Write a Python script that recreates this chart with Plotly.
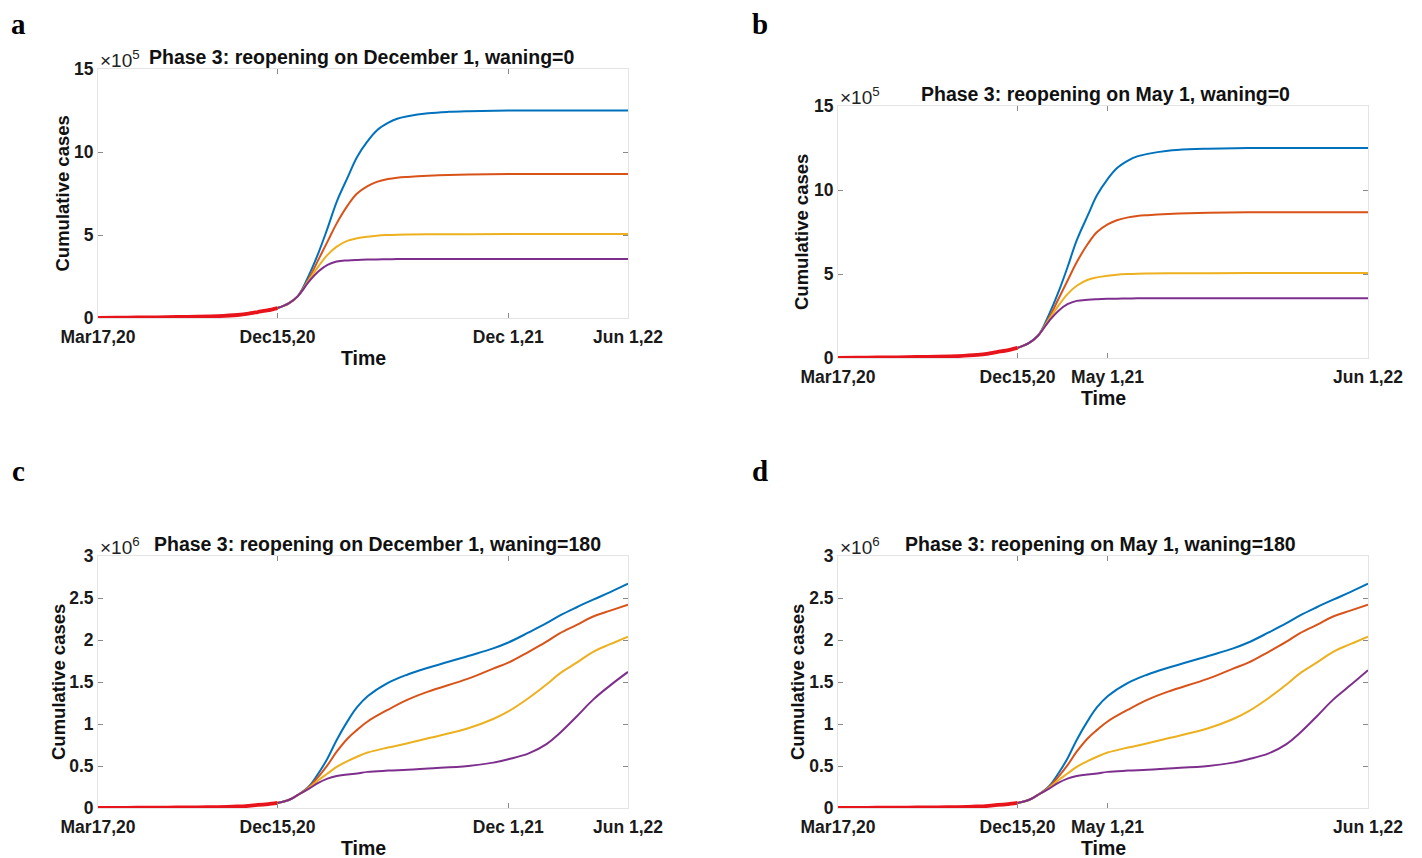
import plotly.graph_objects as go

# ---------------- data ----------------
# observed cumulative cases (red), Mar 17 2020 -> Dec 15 2020
red_dates = ["2020-03-17", "2020-04-15", "2020-05-15", "2020-06-15", "2020-07-15",
             "2020-08-15", "2020-09-15", "2020-10-15", "2020-11-01", "2020-11-15",
             "2020-12-01", "2020-12-15"]
red_e5 = [0.0, 0.02, 0.03, 0.04, 0.06, 0.08, 0.11, 0.18, 0.26, 0.36, 0.47, 0.60]   # x10^5
red_e6 = [0.0, 0.002, 0.003, 0.004, 0.006, 0.008, 0.011, 0.018, 0.026, 0.036, 0.047, 0.060]  # x10^6

# panels a / b  (waning = 0), values x10^5
dates_ab = ["2020-12-15", "2021-01-01", "2021-01-15", "2021-02-01", "2021-02-15",
            "2021-03-01", "2021-03-15", "2021-04-01", "2021-04-15", "2021-05-01",
            "2021-05-15", "2021-06-01", "2021-06-15", "2021-07-01", "2021-08-01",
            "2021-09-01", "2021-10-01", "2021-12-01", "2022-02-01", "2022-06-01"]
a_blue = [0.60, 0.88, 1.32, 2.6, 3.9, 5.4, 7.0, 8.5, 9.7, 10.65, 11.3, 11.75, 12.0, 12.15,
          12.33, 12.42, 12.46, 12.5, 12.5, 12.5]
a_orange = [0.60, 0.88, 1.32, 2.4, 3.5, 4.6, 5.7, 6.8, 7.5, 7.95, 8.2, 8.37, 8.45, 8.5,
            8.57, 8.62, 8.65, 8.67, 8.68, 8.68]
a_yellow = [0.60, 0.88, 1.32, 2.3, 3.1, 3.8, 4.3, 4.66, 4.8, 4.9, 4.96, 5.0, 5.02, 5.03,
            5.04, 5.05, 5.05, 5.06, 5.06, 5.06]
a_purple = [0.60, 0.88, 1.32, 2.2, 2.8, 3.2, 3.4, 3.47, 3.5, 3.52, 3.53, 3.54, 3.55, 3.55,
            3.55, 3.56, 3.56, 3.56, 3.56, 3.56]

b_blue = [0.60, 0.88, 1.32, 2.6, 3.9, 5.4, 7.0, 8.5, 9.7, 10.65, 11.3, 11.75, 12.0, 12.15,
          12.33, 12.42, 12.46, 12.5, 12.5, 12.5]
b_orange = [0.60, 0.88, 1.32, 2.4, 3.5, 4.6, 5.7, 6.8, 7.5, 7.95, 8.2, 8.37, 8.45, 8.5,
            8.57, 8.62, 8.65, 8.67, 8.68, 8.68]
b_yellow = [0.60, 0.88, 1.32, 2.3, 3.1, 3.8, 4.3, 4.66, 4.8, 4.9, 4.96, 5.0, 5.02, 5.03,
            5.04, 5.05, 5.05, 5.06, 5.06, 5.06]
b_purple = [0.60, 0.88, 1.32, 2.2, 2.8, 3.2, 3.4, 3.47, 3.5, 3.52, 3.53, 3.54, 3.55, 3.55,
            3.55, 3.56, 3.56, 3.56, 3.56, 3.56]

# panels c / d  (waning = 180), values x10^6
dates_cd = ["2020-12-15", "2021-01-01", "2021-01-15", "2021-02-01", "2021-02-15",
            "2021-03-01", "2021-03-15", "2021-04-01", "2021-04-15", "2021-05-01",
            "2021-06-01", "2021-07-01", "2021-08-01", "2021-10-01", "2021-11-08",
            "2021-12-01", "2022-01-01", "2022-01-28", "2022-02-17", "2022-03-15",
            "2022-04-09", "2022-05-05", "2022-06-01"]
c_blue = [0.06, 0.095, 0.155, 0.26, 0.41, 0.59, 0.81, 1.04, 1.20, 1.33, 1.49, 1.59, 1.67,
          1.81, 1.90, 1.97, 2.09, 2.20, 2.29, 2.39, 2.48, 2.57, 2.67]
c_orange = [0.06, 0.095, 0.155, 0.25, 0.37, 0.51, 0.67, 0.83, 0.93, 1.03, 1.17, 1.29, 1.385,
            1.54, 1.66, 1.73, 1.86, 1.98, 2.08, 2.18, 2.28, 2.35, 2.42]
c_yellow = [0.06, 0.095, 0.155, 0.24, 0.33, 0.41, 0.49, 0.56, 0.61, 0.66, 0.72, 0.77, 0.83,
            0.95, 1.06, 1.15, 1.31, 1.47, 1.60, 1.73, 1.86, 1.95, 2.04]
c_purple = [0.06, 0.095, 0.155, 0.23, 0.30, 0.35, 0.38, 0.40, 0.41, 0.43, 0.445, 0.455, 0.47,
            0.50, 0.54, 0.58, 0.65, 0.76, 0.89, 1.09, 1.29, 1.46, 1.62]

d_blue = [0.06, 0.095, 0.155, 0.26, 0.41, 0.59, 0.81, 1.04, 1.20, 1.33, 1.49, 1.59, 1.67,
          1.81, 1.90, 1.97, 2.09, 2.20, 2.29, 2.39, 2.48, 2.57, 2.67]
d_orange = [0.06, 0.095, 0.155, 0.25, 0.37, 0.51, 0.67, 0.83, 0.93, 1.03, 1.17, 1.29, 1.385,
            1.54, 1.66, 1.73, 1.86, 1.98, 2.08, 2.18, 2.28, 2.35, 2.42]
d_yellow = [0.06, 0.095, 0.155, 0.24, 0.33, 0.41, 0.49, 0.56, 0.61, 0.66, 0.72, 0.77, 0.83,
            0.95, 1.06, 1.15, 1.31, 1.47, 1.60, 1.73, 1.86, 1.95, 2.04]
d_purple = [0.06, 0.095, 0.155, 0.23, 0.30, 0.35, 0.38, 0.40, 0.41, 0.43, 0.445, 0.455, 0.47,
            0.50, 0.54, 0.58, 0.65, 0.76, 0.89, 1.09, 1.29, 1.46, 1.64]

xtick_vals_ac = ["2020-03-17", "2020-12-15", "2021-12-01", "2022-06-01"]
xtick_text_ac = ["Mar17,20", "Dec15,20", "Dec 1,21", "Jun 1,22"]
xtick_vals_bd = ["2020-03-17", "2020-12-15", "2021-05-01", "2022-06-01"]
xtick_text_bd = ["Mar17,20", "Dec15,20", "May 1,21", "Jun 1,22"]
ytick_ab = [0, 5, 10, 15]
ytick_cd = [0, 0.5, 1, 1.5, 2, 2.5, 3]
ytick_cd_text = ["0", "0.5", "1", "1.5", "2", "2.5", "3"]

titles = ["Phase 3: reopening on December 1, waning=0",
          "Phase 3: reopening on May 1, waning=0",
          "Phase 3: reopening on December 1, waning=180",
          "Phase 3: reopening on May 1, waning=180"]
panel_letters = ["a", "b", "c", "d"]
exponents = ["5", "5", "6", "6"]

# ---------------- style ----------------
W, H = 1422, 858
OFF = 8   # the page body adds an 8px margin; compensate so pixel targets match
COLORS = ["#0072BD", "#D95319", "#EDB120", "#7E2F8E"]
RED = "#E8141B"
FONT = "Liberation Sans, Arial, sans-serif"

def px(x):
    return (x - OFF) / W

def py(y):
    return 1 - (y - OFF) / H

# plot boxes in screen pixels: (left, right, top, bottom)
boxes = [(98, 628, 69, 318), (838, 1368, 106, 358), (98, 628, 556, 808), (838, 1368, 556, 808)]
ylabel_x = [62, 801, 58, 797]
letter_pos = [(18, 24), (760, 24), (18, 471), (760, 471)]
# title placement: (x, anchor) -- MATLAB pushes long titles right of the exponent label
title_pos = [(147, "left"), (1105, "center"), (152, "left"), (1100, "center")]

panels = [
    (dates_ab, [a_blue, a_orange, a_yellow, a_purple], red_e5, [0, 15], ytick_ab, [str(v) for v in ytick_ab], xtick_vals_ac, xtick_text_ac),
    (dates_ab, [b_blue, b_orange, b_yellow, b_purple], red_e5, [0, 15], ytick_ab, [str(v) for v in ytick_ab], xtick_vals_bd, xtick_text_bd),
    (dates_cd, [c_blue, c_orange, c_yellow, c_purple], red_e6, [0, 3], ytick_cd, ytick_cd_text, xtick_vals_ac, xtick_text_ac),
    (dates_cd, [d_blue, d_orange, d_yellow, d_purple], red_e6, [0, 3], ytick_cd, ytick_cd_text, xtick_vals_bd, xtick_text_bd),
]

fig = go.Figure()
annotations = []
layout_axes = {}

for i, (dts, series, red, yr, yv, yt, xv, xt) in enumerate(panels):
    n = i + 1
    xa = "x" if n == 1 else f"x{n}"
    ya = "y" if n == 1 else f"y{n}"
    for s, col in zip(series, COLORS):
        fig.add_trace(go.Scatter(x=dts, y=s, mode="lines",
                                 line=dict(color=col, width=2, shape="spline", smoothing=1.1),
                                 xaxis=xa, yaxis=ya, showlegend=False, hoverinfo="skip"))
    fig.add_trace(go.Scatter(x=red_dates, y=red, mode="lines",
                             line=dict(color=RED, width=3.8, shape="spline", smoothing=0.6),
                             xaxis=xa, yaxis=ya, showlegend=False, hoverinfo="skip"))

    l, r, t, b = boxes[i]
    xkey = "xaxis" if n == 1 else f"xaxis{n}"
    ykey = "yaxis" if n == 1 else f"yaxis{n}"
    common = dict(showgrid=False, zeroline=False, showline=True, linecolor="#e4e4e4", linewidth=1,
                  mirror="ticks", ticks="inside", ticklen=5, tickwidth=1, tickcolor="#8a8a8a",
                  automargin=False,
                  tickfont=dict(family=FONT, size=17.5, color="#1a1a1a", weight="bold"))
    layout_axes[xkey] = dict(common, type="date", domain=[px(l), px(r)], anchor=ya,
                             range=["2020-03-17", "2022-06-01"], tickmode="array",
                             tickvals=xv, ticktext=xt, ticklabelstandoff=3)
    layout_axes[ykey] = dict(common, domain=[py(b), py(t)], anchor=xa, range=yr,
                             tickmode="array", tickvals=yv, ticktext=yt)

    cx = (l + r) / 2
    tx, tanc = title_pos[i]
    annotations.append(dict(text=titles[i], x=px(tx), y=py(t - 12), xref="paper", yref="paper",
                            xanchor=tanc, yanchor="middle", showarrow=False,
                            font=dict(family=FONT, size=19.5, color="#111", weight="bold")))
    annotations.append(dict(text="×10<sup>" + exponents[i] + "</sup>", x=px(l), y=py(t - 10),
                            xref="paper", yref="paper", xanchor="left", yanchor="middle", showarrow=False,
                            font=dict(family=FONT, size=19, color="#222")))
    annotations.append(dict(text="Cumulative cases", x=px(ylabel_x[i]), y=py((t + b) / 2),
                            xref="paper", yref="paper", xanchor="center", yanchor="middle",
                            showarrow=False, textangle=-90,
                            font=dict(family=FONT, size=18.5, color="#111", weight="bold")))
    annotations.append(dict(text="Time", x=px(cx), y=py(b + 40), xref="paper", yref="paper",
                            xanchor="center", yanchor="middle", showarrow=False,
                            font=dict(family=FONT, size=19.5, color="#111", weight="bold")))
    lx, ly = letter_pos[i]
    annotations.append(dict(text=panel_letters[i], x=px(lx), y=py(ly), xref="paper", yref="paper",
                            xanchor="center", yanchor="middle", showarrow=False,
                            font=dict(family="Liberation Serif, Times New Roman, serif", size=29,
                                      color="#000", weight="bold")))

fig.update_layout(width=W, height=H, margin=dict(l=0, r=0, t=0, b=0),
                  paper_bgcolor="white", plot_bgcolor="white",
                  annotations=annotations, **layout_axes)

fig.write_html("out.html")
